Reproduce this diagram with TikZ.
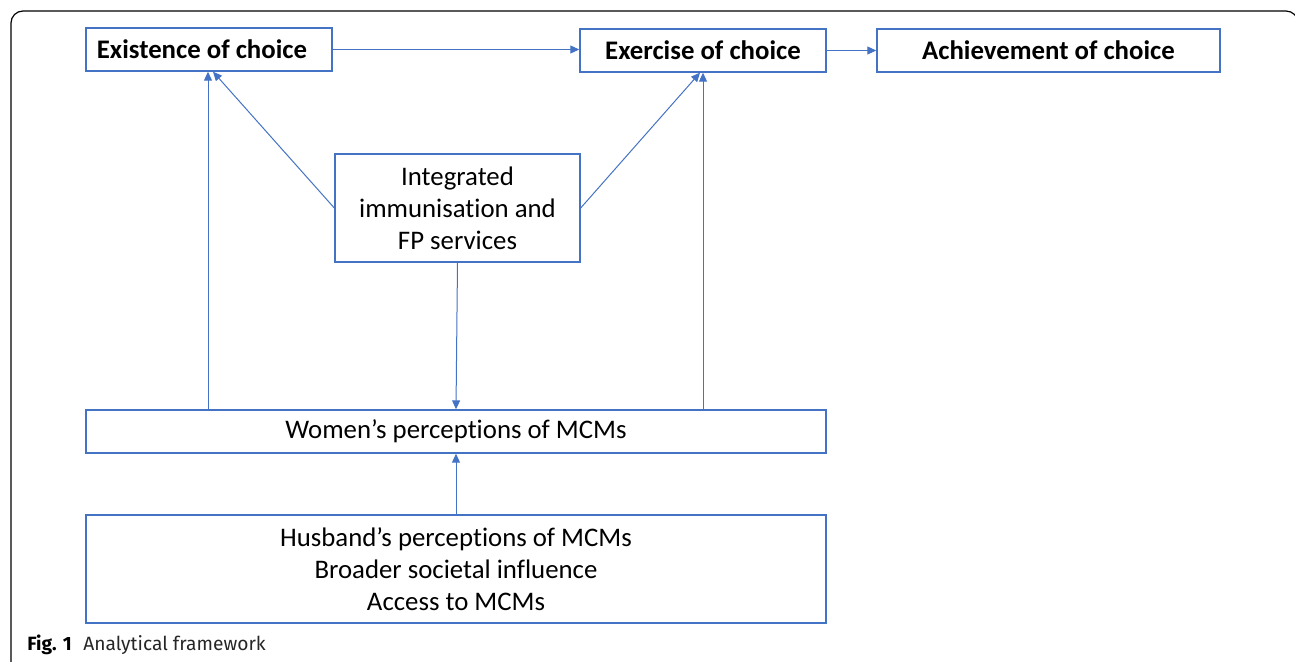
\documentclass[tikz,border=0pt]{standalone}
\usepackage{fontspec}
\setmainfont{Carlito}[RawFeature=-liga]
\newfontfamily\capfont{Fira Sans}
\usetikzlibrary{arrows.meta,calc}
\definecolor{bl}{HTML}{4472C4}
\begin{document}
\begin{tikzpicture}[x=0.5pt,y=-0.5pt,
  box/.style={draw=bl,line width=0.7pt,rectangle,inner sep=0pt,align=center,font=\fontsize{13.4}{16}\selectfont},
  bbox/.style={box,font=\fontsize{13.4}{16}\selectfont\bfseries},
  arr/.style={draw=bl,line width=0.5pt,-{Triangle[length=4.5pt,width=4pt]}}]
\useasboundingbox (0,0) rectangle (1295,662);
\draw[line width=0.6pt,rounded corners=6pt] (11,662) -- (11,11) -- (1298,11) -- (1298,40);
\node[bbox,minimum width=123pt,minimum height=21.5pt] (exist) at (209,49.5) {Existence of choice\hspace*{7pt}};
\node[bbox,minimum width=123pt,minimum height=21.5pt] (exer) at (703,50.5) {Exercise of choice};
\node[bbox,minimum width=171.5pt,minimum height=21.5pt] (ach) at (1048.5,50.5) {Achievement of choice};
\node[box,minimum width=122.5pt,minimum height=54pt] (integ) at (457.5,208) {Integrated\\immunisation and\\FP services};
\node[box,minimum width=370pt,minimum height=21.5pt] (women) at (456,431.5) {Women’s perceptions of MCMs};
\node[box,minimum width=370pt,minimum height=54pt] (bottom) at (456,569) {Husband’s perceptions of MCMs\\Broader societal influence\\Access to MCMs};
\draw[arr] (exist.east) -- (exist.east -| exer.west);
\draw[arr] (exer.east) -- (exer.east -| ach.west);
\draw[arr] (women.north -| 208,0) -- (exist.south -| 208,0);
\draw[arr] (women.north -| exer.south) -- (exer.south);
\draw[arr] (integ.west) -- ($(exist.south)+(4,0)$);
\draw[arr] (integ.east) -- ($(exer.south)+(-3,0)$);
\draw[arr] (integ.south) -- (women.north);
\draw[arr] (bottom.north) -- (women.south);
\node[anchor=base west,inner sep=0pt,font=\capfont\fontsize{9.6}{11}\selectfont] (cap) at (27,650) {\textbf{Fig. 1}\hspace{0.6em}\textcolor{black!85}{Analytical framework}};
\end{tikzpicture}
\end{document}
